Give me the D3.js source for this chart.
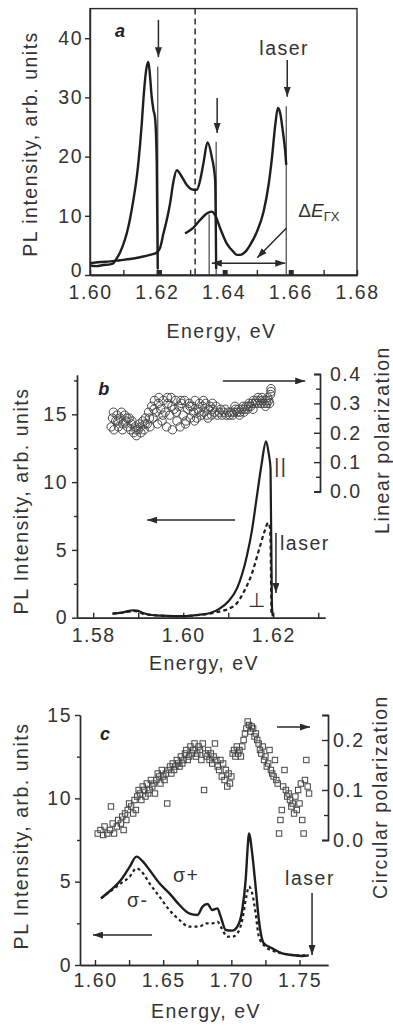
<!DOCTYPE html>
<html lang="en">
<head>
<meta charset="UTF-8">
<title>PL spectra</title>
<script src="https://d3js.org/d3.v7.min.js"></script>
<style>
  body { margin: 0; background: #fff; }
  svg text { font-family: "Liberation Sans", Arial, sans-serif; fill: #333; font-weight: normal; }
  .tick text, .lab { font-size: 19.5px; letter-spacing: 1.5px; }
  .axis path, .axis line { stroke: #2a2a2a; stroke-width: 1.4; }
  svg text.panel { font-size: 18px; font-weight: bold; font-style: italic; fill: #222; }
</style>
</head>
<body>
<svg id="fig" width="393" height="1029"></svg>
<script>
// ---------- panel a ----------
const aTicksX = [1.60, 1.62, 1.64, 1.66, 1.68];
const aMinorX = [1.61, 1.63, 1.65, 1.67];
const aTicksY = [0, 10, 20, 30, 40];

const a1E = [1.600,1.602,1.604,1.606,1.607,1.608,1.609,1.610,1.611,1.612,1.613,1.614,1.6145,1.615,1.6155,1.616,1.6165,1.617,1.6175,1.618,1.6185,1.619,1.6195,1.620,1.6203];
const a1I = [1.6,1.5,1.7,1.8,2.0,2.8,3.8,5.2,7.0,9.5,12.7,16.5,19.0,22.0,25.5,29.6,33.0,35.2,36.0,33.5,30.0,27.9,26.5,19.0,1.0];

const a2E = [1.600,1.603,1.606,1.609,1.612,1.615,1.618,1.620,1.621,1.622,1.623,1.624,1.625,1.626,1.6275,1.629,1.631,1.632,1.633,1.634,1.6352,1.6365,1.6375,1.6378];
const a2I = [2.0,2.2,2.3,2.5,2.7,3.0,3.4,3.8,4.6,7.0,9.3,12.1,15.8,17.7,16.6,15.2,14.4,14.4,16.0,18.9,22.4,19.9,16.0,1.0];

const a3E = [1.6285,1.631,1.633,1.635,1.6365,1.6375,1.639,1.641,1.643,1.644,1.645,1.6465,1.648,1.650,1.652,1.6535,1.6545,1.6555,1.6563,1.657,1.6578,1.6585,1.6588];
const a3I = [7.0,8.0,9.3,10.4,10.7,10.1,7.9,5.3,3.9,3.4,3.4,3.9,5.1,7.3,10.7,15.2,19.7,25.3,28.2,27.3,24.2,20.8,18.6];

// laser lines: energy, top intensity
const aLineE = [1.6203, 1.6357, 1.6378, 1.6588];
const aLineTop = [35.2, 10.2, 22.5, 28.5];

// ---------- panel b ----------
const bTicksX = [1.58, 1.60, 1.62];
const bMinorX = [1.59, 1.61, 1.63];
const bTicksY = [0, 5, 10, 15];
const bMinorY = [2.5, 7.5, 12.5, 17.5];
const bTicksP = [0, 0.1, 0.2, 0.3, 0.4];
const bMinorP = [0.05, 0.15, 0.25, 0.35];

const bParE = [1.5843,1.586,1.588,1.589,1.590,1.591,1.593,1.595,1.598,1.600,1.603,1.606,1.608,1.610,1.612,1.6141,1.6153,1.6163,1.6174,1.6184,1.619,1.6194,1.6197,1.6199];
const bParI = [0.3,0.35,0.5,0.55,0.5,0.35,0.2,0.15,0.12,0.12,0.2,0.35,0.65,1.2,2.2,4.5,6.5,8.8,11.3,13.0,12.1,11.0,1.0,0.1];

const bPerE = [1.5843,1.586,1.588,1.589,1.590,1.591,1.593,1.595,1.598,1.600,1.603,1.606,1.608,1.610,1.612,1.6133,1.6152,1.617,1.618,1.6189,1.6193,1.6196];
const bPerI = [0.3,0.35,0.45,0.5,0.45,0.3,0.2,0.15,0.12,0.12,0.18,0.3,0.45,0.65,1.1,1.8,3.2,5.2,6.3,7.0,6.6,0.3];

const linPol = [
  [1.5840,0.22],[1.5843,0.25],[1.5845,0.27],[1.5846,0.21],[1.5850,0.24],[1.5853,0.26],[1.5855,0.24],[1.5856,0.22],
  [1.5860,0.25],[1.5863,0.27],[1.5865,0.21],[1.5866,0.23],[1.5870,0.26],[1.5873,0.24],[1.5875,0.25],[1.5876,0.22],
  [1.5880,0.25],[1.5883,0.21],[1.5885,0.23],[1.5886,0.24],[1.5890,0.20],[1.5893,0.22],[1.5895,0.21],[1.5896,0.19],
  [1.5900,0.21],[1.5903,0.23],[1.5905,0.22],[1.5906,0.20],[1.5910,0.24],[1.5913,0.21],[1.5915,0.23],[1.5916,0.25],
  [1.5920,0.23],[1.5923,0.27],[1.5925,0.25],[1.5926,0.22],[1.5930,0.29],[1.5933,0.25],[1.5935,0.28],[1.5936,0.31],
  [1.5940,0.27],[1.5943,0.23],[1.5945,0.30],[1.5946,0.32],[1.5950,0.28],[1.5953,0.24],[1.5955,0.26],[1.5956,0.31],
  [1.5960,0.27],[1.5963,0.22],[1.5965,0.32],[1.5966,0.30],[1.5970,0.26],[1.5973,0.32],[1.5975,0.29],[1.5976,0.21],
  [1.5980,0.28],[1.5983,0.31],[1.5985,0.27],[1.5986,0.24],[1.5990,0.29],[1.5993,0.22],[1.5995,0.31],[1.5996,0.30],
  [1.6000,0.26],[1.6003,0.31],[1.6005,0.23],[1.6006,0.24],[1.6010,0.28],[1.6013,0.30],[1.6015,0.29],[1.6016,0.25],
  [1.6020,0.29],[1.6023,0.27],[1.6025,0.24],[1.6026,0.31],[1.6030,0.25],[1.6033,0.28],[1.6035,0.27],[1.6036,0.30],
  [1.6040,0.26],[1.6043,0.29],[1.6045,0.31],[1.6046,0.27],[1.6050,0.30],[1.6053,0.26],[1.6055,0.25],[1.6056,0.28],
  [1.6060,0.29],[1.6063,0.26],[1.6065,0.30],[1.6066,0.28],[1.6070,0.27],[1.6073,0.29],[1.6076,0.26],[1.6080,0.27],
  [1.6083,0.28],[1.6086,0.26],[1.6090,0.27],[1.6093,0.28],[1.6096,0.26],[1.6100,0.27],[1.6103,0.26],[1.6106,0.27],
  [1.6110,0.26],[1.6113,0.27],[1.6115,0.29],[1.6116,0.28],[1.6120,0.27],[1.6123,0.28],[1.6125,0.26],[1.6126,0.27],
  [1.6130,0.28],[1.6133,0.29],[1.6135,0.27],[1.6136,0.28],[1.6140,0.29],[1.6143,0.28],[1.6145,0.29],[1.6146,0.30],
  [1.6150,0.29],[1.6153,0.30],[1.6155,0.28],[1.6156,0.31],[1.6160,0.30],[1.6163,0.31],[1.6165,0.30],[1.6166,0.32],
  [1.6170,0.31],[1.6173,0.30],[1.6175,0.32],[1.6176,0.31],[1.6180,0.30],[1.6183,0.29],[1.6185,0.31],[1.6186,0.30],
  [1.6188,0.32],[1.6190,0.31],[1.6192,0.30],[1.6194,0.33],[1.6195,0.34],[1.6195,0.35]
];

// ---------- panel c ----------
const cTicksX = [1.60, 1.65, 1.70, 1.75];
const cMinorX = [1.625, 1.675, 1.725];
const cTicksY = [0, 5, 10, 15];
const cMinorY = [2.5, 7.5, 12.5];
const cTicksP = [0, 0.1, 0.2];
const cMinorP = [0.05, 0.15, 0.25];

const cPlusE = [1.6044,1.6117,1.619,1.6255,1.6304,1.6352,1.640,1.6473,1.6546,1.662,1.669,1.6752,1.6789,1.6825,1.686,1.6898,1.6922,1.6959,1.7007,1.7044,1.708,1.7105,1.7122,1.7129,1.7153,1.7178,1.7202,1.7238,1.730,1.7373,1.7446,1.7519,1.7567];
const cPlusI = [4.0,4.5,5.1,5.9,6.5,6.2,5.7,4.9,4.3,3.6,3.1,3.0,3.5,3.66,3.3,3.4,2.9,2.1,2.06,2.3,3.3,5.1,7.3,7.9,6.7,4.7,2.7,1.3,1.0,0.7,0.6,0.54,0.58];

const cMinusE = [1.6044,1.619,1.6255,1.6304,1.6352,1.640,1.6473,1.6546,1.662,1.669,1.6765,1.6813,1.686,1.6898,1.6929,1.697,1.7007,1.7044,1.708,1.711,1.7129,1.7153,1.7178,1.7202,1.725,1.7324,1.7397,1.749,1.7567];
const cMinusI = [4.0,4.9,5.3,5.8,5.5,4.9,4.1,3.3,2.7,2.3,2.3,2.5,2.5,2.6,2.2,1.7,1.7,1.9,2.7,4.1,4.7,4.3,3.1,1.7,1.1,0.8,0.66,0.58,0.58];

const circE = [1.602,1.604,1.606,1.607,1.609,1.611,1.6117,1.613,1.614,1.616,1.617,1.619,1.620,1.621,1.622,1.623,1.624,1.625,1.6265,1.628,1.629,1.630,1.631,1.632,1.633,1.634,1.635,1.636,1.637,1.638,1.639,1.640,1.641,1.642,1.643,1.644,1.645,1.646,1.647,1.648,1.649,1.650,1.651,1.652,1.653,1.654,1.655,1.656,1.657,1.658,1.659,1.660,1.661,1.662,1.663,1.664,1.665,1.666,1.667,1.668,1.669,1.670,1.671,1.672,1.673,1.674,1.675,1.676,1.677,1.678,1.679,1.680,1.681,1.682,1.683,1.684,1.685,1.686,1.687,1.688,1.689,1.690,1.691,1.692,1.693,1.694,1.695,1.696,1.697,1.698,1.699,1.700,1.701,1.702,1.703,1.704,1.705,1.706,1.707,1.708,1.709,1.710,1.711,1.712,1.713,1.714,1.715,1.716,1.717,1.718,1.719,1.720,1.721,1.722,1.723,1.724,1.725,1.726,1.727,1.728,1.729,1.730,1.731,1.732,1.733,1.734,1.735,1.736,1.737,1.738,1.739,1.740,1.741,1.742,1.743,1.744,1.745,1.746,1.747,1.748,1.749,1.750,1.751,1.752,1.753,1.754,1.755,1.756,1.757];
const circP = [0.013,0.02,0.01,0.027,0.013,0.02,0.067,0.033,0.013,0.027,0.04,0.033,0.047,0.02,0.053,0.04,0.06,0.073,0.067,0.053,0.08,0.06,0.087,0.1,0.093,0.08,0.107,0.1,0.087,0.113,0.093,0.1,0.12,0.107,0.113,0.093,0.12,0.133,0.127,0.113,0.14,0.127,0.12,0.133,0.073,0.14,0.147,0.133,0.153,0.14,0.147,0.16,0.153,0.147,0.167,0.153,0.16,0.173,0.18,0.16,0.167,0.187,0.173,0.18,0.193,0.167,0.173,0.187,0.18,0.16,0.193,0.1,0.173,0.167,0.18,0.16,0.173,0.153,0.167,0.193,0.16,0.147,0.14,0.16,0.127,0.153,0.12,0.14,0.107,0.133,0.113,0.127,0.173,0.18,0.167,0.187,0.173,0.18,0.167,0.187,0.2,0.213,0.223,0.237,0.23,0.217,0.227,0.223,0.207,0.213,0.2,0.193,0.18,0.173,0.187,0.16,0.167,0.147,0.153,0.18,0.14,0.133,0.127,0.16,0.12,0.113,0.013,0.04,0.06,0.107,0.14,0.1,0.087,0.093,0.08,0.067,0.073,0.053,0.087,0.06,0.1,0.073,0.113,0.04,0.013,0.12,0.16,0.107,0.093];

const svg = d3.select("#fig");
const ink = "#2a2a2a";

const defs = svg.append("defs");
defs.append("marker").attr("id", "arr")
    .attr("viewBox", "0 0 10 7").attr("refX", 10).attr("refY", 3.5)
    .attr("markerUnits", "userSpaceOnUse").attr("markerWidth", 10).attr("markerHeight", 7)
    .attr("orient", "auto-start-reverse")
  .append("path").attr("d", "M0,0L10,3.5L0,7Z").attr("fill", ink);

function pts(E, I) { return E.map((e, i) => [e, I[i]]); }

function arrow(g, x, y, e1, i1, e2, i2, both) {
    const l = g.append("line")
        .attr("x1", x(e1)).attr("y1", y(i1)).attr("x2", x(e2)).attr("y2", y(i2))
        .attr("stroke", ink).attr("stroke-width", 1.5)
        .attr("marker-end", "url(#arr)");
    if (both) l.attr("marker-start", "url(#arr)");
}

function label(g, x, y, e, i, txt, anchor, cls) {
    return g.append("text").attr("x", x(e)).attr("y", y(i))
        .attr("text-anchor", anchor || "start").attr("class", cls || "lab").text(txt);
}

function styleAxis(sel) { sel.attr("class", "axis").selectAll(".tick text").attr("fill", "#333"); }

// ================= panel a =================
{
    const x = d3.scaleLinear().domain([1.60, 1.68]).range([90, 357]);
    const y = d3.scaleLinear().domain([0, 45]).range([275, 8.6]);
    const g = svg.append("g");

    g.append("rect").attr("x", 90).attr("y", y(45)).attr("width", x(1.68) - x(1.60))
        .attr("height", y(0) - y(45)).attr("fill", "none").attr("stroke", ink).attr("stroke-width", 1.4);

    g.append("g").attr("transform", `translate(0,${y(0)})`)
        .call(d3.axisBottom(x).tickValues(aTicksX).tickSize(-5).tickSizeOuter(0).tickPadding(10).tickFormat(d3.format(".2f")))
        .call(styleAxis);
    g.append("g").attr("transform", `translate(0,${y(0)})`)
        .call(d3.axisBottom(x).tickValues(aMinorX).tickSize(-5).tickSizeOuter(0).tickFormat(""))
        .call(styleAxis);
    g.append("g").attr("transform", "translate(90,0)")
        .call(d3.axisLeft(y).tickValues(aTicksY).tickSize(5).tickSizeOuter(0).tickPadding(2))
        .call(styleAxis)
        .selectAll(".tick text").filter(d => d === 0).attr("y", -5);

    // dashed reference line
    g.append("line").attr("x1", x(1.6315)).attr("x2", x(1.6315)).attr("y1", y(45)).attr("y2", y(0))
        .attr("stroke", ink).attr("stroke-width", 1.5).attr("stroke-dasharray", "6,4");

    // laser lines
    aLineE.forEach((e, i) => {
        g.append("line").attr("x1", x(e)).attr("x2", x(e)).attr("y1", y(aLineTop[i])).attr("y2", y(0))
            .attr("stroke", "#444").attr("stroke-width", 1.2);
    });
    [1.6208, 1.6405, 1.6603].forEach(e => {
        g.append("rect").attr("x", x(e) - 2.5).attr("y", y(0) - 5).attr("width", 5).attr("height", 5).attr("fill", ink);
    });

    const line = d3.line().x(d => x(d[0])).y(d => y(d[1])).curve(d3.curveMonotoneX);
    [[a1E, a1I], [a2E, a2I], [a3E, a3I]].forEach(([E, I]) => {
        g.append("path").attr("d", line(pts(E, I))).attr("fill", "none")
            .attr("stroke", "#1e1e1e").attr("stroke-width", 2.4);
    });

    arrow(g, x, y, 1.6205, 43.1, 1.6205, 36.8);
    arrow(g, x, y, 1.6381, 29.9, 1.6381, 24.0);
    arrow(g, x, y, 1.6591, 36.3, 1.6591, 30.1);
    arrow(g, x, y, 1.6365, 2.0, 1.6585, 2.0, true);
    arrow(g, x, y, 1.6588, 7.9, 1.6501, 2.9);

    label(g, x, y, 1.6075, 40.2, "a", "start", "panel");
    label(g, x, y, 1.6582, 37.2, "laser", "middle");
    const dE = g.append("text").attr("x", x(1.6624)).attr("y", y(9.8))
        .attr("font-family", "'Liberation Serif', 'Times New Roman', serif").attr("font-size", 19);
    dE.append("tspan").text("\u0394");
    dE.append("tspan").attr("font-style", "italic").text("E");
    dE.append("tspan").attr("font-size", 13).attr("dy", 4).text("\u0393X");

    svg.append("text").attr("class", "lab").attr("x", 221.5).attr("y", 338).attr("text-anchor", "middle").text("Energy, eV");
    svg.append("text").attr("class", "lab").attr("text-anchor", "middle")
        .attr("transform", "translate(37,144) rotate(-90)").text("PL intensity, arb. units");
}

// ================= panel b =================
{
    const x = d3.scaleLinear().domain([1.5764, 1.6315]).range([77, 325]);
    const y = d3.scaleLinear().domain([0, 17.9]).range([617.7, 375]);
    const p = d3.scaleLinear().domain([0, 0.4]).range([491.5, 374]);
    const g = svg.append("g");

    g.append("g").attr("transform", `translate(0,${y(0)})`)
        .call(d3.axisBottom(x).tickValues(bTicksX).tickSize(-5).tickSizeOuter(0).tickPadding(10).tickFormat(d3.format(".2f")))
        .call(styleAxis);
    g.append("g").attr("transform", `translate(0,${y(0)})`)
        .call(d3.axisBottom(x).tickValues(bMinorX).tickSize(-5).tickSizeOuter(0).tickFormat(""))
        .call(styleAxis);
    g.append("g").attr("transform", "translate(77,0)")
        .call(d3.axisLeft(y).tickValues(bTicksY).tickSize(5).tickSizeOuter(0).tickPadding(4))
        .call(styleAxis);
    g.append("g").attr("transform", "translate(77,0)")
        .call(d3.axisLeft(y).tickValues(bMinorY).tickSize(3).tickSizeOuter(0).tickFormat(""))
        .call(styleAxis);
    g.append("g").attr("transform", "translate(320,0)")
        .call(d3.axisRight(p).tickValues(bTicksP).tickSize(-6).tickSizeOuter(-6).tickPadding(10).tickFormat(d3.format(".1f")))
        .call(styleAxis);
    g.append("g").attr("transform", "translate(320,0)")
        .call(d3.axisRight(p).tickValues(bMinorP).tickSize(-4).tickSizeOuter(-6).tickFormat(""))
        .call(styleAxis);

    g.selectAll(".pol").data(linPol).join("circle").attr("class", "pol")
        .attr("cx", d => x(d[0])).attr("cy", d => p(d[1])).attr("r", 4.2)
        .attr("fill", "none").attr("stroke", "#4a4a4a").attr("stroke-width", 1);

    const line = d3.line().x(d => x(d[0])).y(d => y(d[1])).curve(d3.curveMonotoneX);
    g.append("path").attr("d", line(pts(bPerE, bPerI))).attr("fill", "none")
        .attr("stroke", "#1e1e1e").attr("stroke-width", 2.2).attr("stroke-dasharray", "4,3");
    g.append("path").attr("d", line(pts(bParE, bParI))).attr("fill", "none")
        .attr("stroke", "#1e1e1e").attr("stroke-width", 2.2);

    arrow(g, x, y, 1.6088, 17.46, 1.6271, 17.46);
    arrow(g, x, y, 1.6115, 7.2, 1.5920, 7.2);
    arrow(g, x, y, 1.6206, 6.25, 1.6206, 1.82);

    label(g, x, y, 1.5811, 16.4, "b", "start", "panel");
    label(g, x, y, 1.6202, 10.7, "||");
    label(g, x, y, 1.6215, 5.0, "laser");
    label(g, x, y, 1.6144, 0.8, "\u22A5").attr("fill", "#777");

    svg.append("text").attr("class", "lab").attr("x", 204).attr("y", 670).attr("text-anchor", "middle").text("Energy, eV");
    svg.append("text").attr("class", "lab").attr("text-anchor", "middle")
        .attr("transform", "translate(28,501) rotate(-90)").text("PL Intensity, arb. units");
    svg.append("text").attr("class", "lab").attr("text-anchor", "middle")
        .attr("transform", "translate(389,440) rotate(-90)").text("Linear polarization");
}

// ================= panel c =================
{
    const x = d3.scaleLinear().domain([1.589, 1.7709]).range([80, 328]);
    const y = d3.scaleLinear().domain([0, 15]).range([965, 715]);
    const p = d3.scaleLinear().domain([0, 0.25]).range([840, 715]);
    const g = svg.append("g");

    g.append("g").attr("transform", `translate(0,${y(0)})`)
        .call(d3.axisBottom(x).tickValues(cTicksX).tickSize(-5).tickSizeOuter(0).tickPadding(8).tickFormat(d3.format(".2f")))
        .call(styleAxis);
    g.append("g").attr("transform", `translate(0,${y(0)})`)
        .call(d3.axisBottom(x).tickValues(cMinorX).tickSize(-5).tickSizeOuter(0).tickFormat(""))
        .call(styleAxis);
    g.append("g").attr("transform", "translate(80,0)")
        .call(d3.axisLeft(y).tickValues(cTicksY).tickSize(5).tickSizeOuter(0).tickPadding(3))
        .call(styleAxis);
    g.append("g").attr("transform", "translate(80,0)")
        .call(d3.axisLeft(y).tickValues(cMinorY).tickSize(3).tickSizeOuter(0).tickFormat(""))
        .call(styleAxis);
    g.append("g").attr("transform", "translate(328,0)")
        .call(d3.axisRight(p).tickValues(cTicksP).tickSize(-6).tickSizeOuter(-6).tickPadding(5).tickFormat(d3.format(".1f")))
        .call(styleAxis);
    g.append("g").attr("transform", "translate(328,0)")
        .call(d3.axisRight(p).tickValues(cMinorP).tickSize(-4).tickSizeOuter(-6).tickFormat(""))
        .call(styleAxis);

    g.selectAll(".pol").data(pts(circE, circP)).join("rect").attr("class", "pol")
        .attr("x", d => x(d[0]) - 2.7).attr("y", d => p(d[1]) - 2.7).attr("width", 5.4).attr("height", 5.4)
        .attr("fill", "none").attr("stroke", "#444").attr("stroke-width", 1);

    const line = d3.line().x(d => x(d[0])).y(d => y(d[1])).curve(d3.curveMonotoneX);
    g.append("path").attr("d", line(pts(cMinusE, cMinusI))).attr("fill", "none")
        .attr("stroke", "#1e1e1e").attr("stroke-width", 2.2).attr("stroke-dasharray", "3,3");
    g.append("path").attr("d", line(pts(cPlusE, cPlusI))).attr("fill", "none")
        .attr("stroke", "#1e1e1e").attr("stroke-width", 2.4);

    arrow(g, x, y, 1.7335, 14.28, 1.7577, 14.28);
    arrow(g, x, y, 1.6418, 1.8, 1.5985, 1.8);
    arrow(g, x, y, 1.7592, 4.32, 1.7592, 0.6);

    label(g, x, y, 1.6037, 13.5, "c", "start", "panel");
    label(g, x, y, 1.6572, 5.0, "\u03C3+");
    label(g, x, y, 1.6235, 3.5, "\u03C3-").attr("fill", "#666");
    label(g, x, y, 1.7577, 4.8, "laser", "middle");

    svg.append("text").attr("class", "lab").attr("x", 206).attr("y", 1018).attr("text-anchor", "middle").text("Energy, eV");
    svg.append("text").attr("class", "lab").attr("text-anchor", "middle")
        .attr("transform", "translate(28,836) rotate(-90)").text("PL Intensity, arb. units");
    svg.append("text").attr("class", "lab").attr("text-anchor", "middle")
        .attr("transform", "translate(387,797) rotate(-90)").text("Circular polarization");
}
</script>
</body>
</html>
